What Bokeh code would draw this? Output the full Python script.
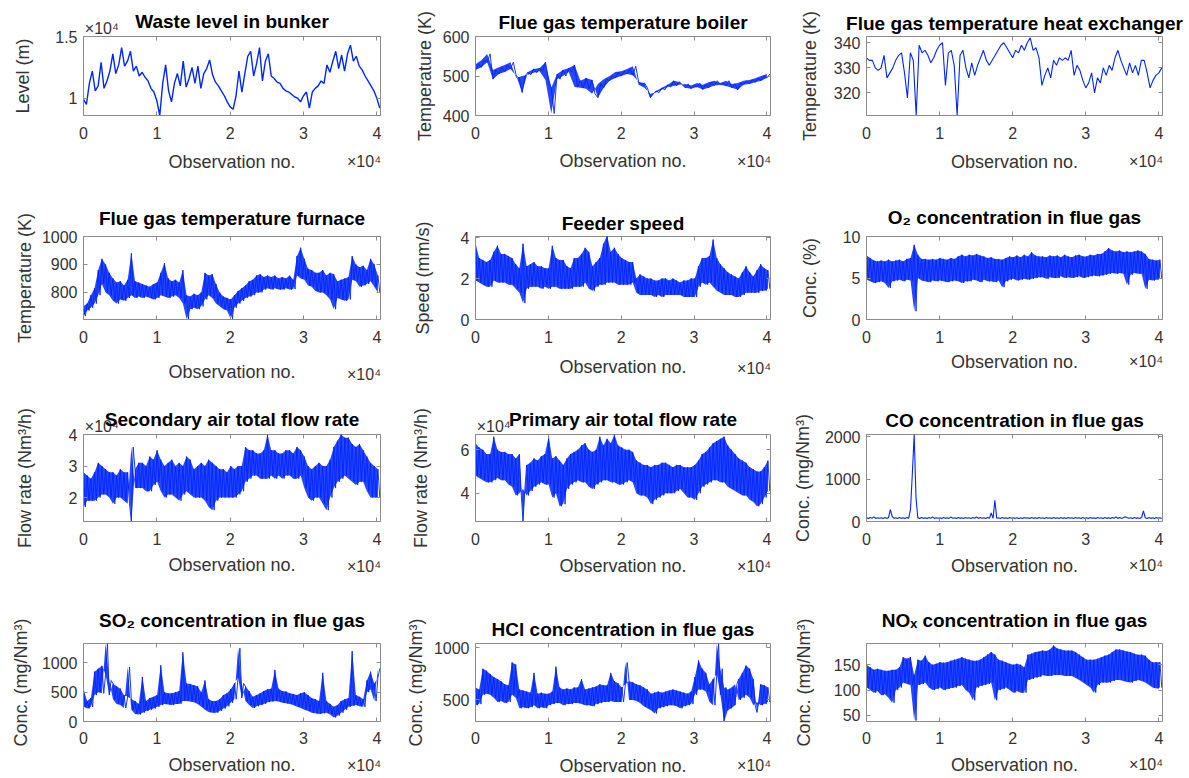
import numpy as np
from bokeh.plotting import figure
from bokeh.layouts import column, row
from bokeh.models import FixedTicker, LinearAxis, Range1d
from bokeh.embed import file_html
from bokeh.resources import INLINE

# ---------------- data (observation axis in units of 1e4) ----------------
x_ticks = [0, 1, 2, 3, 4]
x_last = 4.04

waste_level = [0.99,0.95,1.12,1.22,1.06,1.10,1.29,1.08,1.14,1.22,
    1.36,1.20,1.27,1.41,1.26,1.30,1.38,1.22,1.26,1.18,
    1.21,1.17,1.14,1.08,1.05,0.98,0.86,1.12,1.27,1.06,
    0.97,1.12,1.20,1.10,1.30,1.09,1.16,1.25,1.12,1.26,
    1.08,1.20,1.24,1.31,1.19,1.13,1.10,1.06,1.02,0.97,
    0.93,0.91,1.02,1.22,1.05,1.20,1.34,1.38,1.18,1.28,
    1.41,1.14,1.30,1.36,1.18,1.16,1.13,1.12,1.08,1.06,
    1.05,1.03,1.01,1.00,0.97,1.02,1.05,0.92,1.05,1.08,
    1.10,1.14,1.12,1.27,1.21,1.30,1.38,1.24,1.35,1.22,
    1.36,1.43,1.30,1.34,1.26,1.23,1.18,1.14,1.10,1.06,
    1.00,0.92]

boiler_temp = [515,530,522,540,535,556,492,515,505,522,
    510,528,518,535,500,495,458,500,510,503,
    518,508,520,512,535,490,470,405,505,492,
    515,500,520,510,528,472,488,470,495,468,
    490,455,445,480,470,492,488,500,495,510,
    500,512,505,518,502,525,485,478,482,470,
    445,455,462,458,470,465,478,472,488,475,
    485,478,470,480,468,476,472,482,466,478,
    470,484,476,488,478,482,475,488,470,480,
    465,482,478,488,480,490,484,494,488,500,
    495,505]

hx_temp = [334,333,333,330,329,330,335,326,328,330,
    333,335,336,328,318,336,333,311,339,336,
    337,335,332,334,337,339,340,323,336,337,
    331,311,335,337,330,326,332,327,331,334,
    337,333,331,333,335,337,339,340,338,336,
    334,337,336,339,337,340,342,337,338,334,
    323,327,330,326,333,331,334,333,334,333,
    337,327,331,329,325,322,324,328,320,326,
    324,330,327,331,329,334,337,333,330,327,
    332,328,331,327,333,333,328,322,325,327,
    328,330]

furnace_temp = [750,715,760,735,790,745,815,760,
    880,790,920,830,900,800,870,790,
    850,770,835,760,840,775,825,770,
    845,780,940,790,840,780,835,785,
    830,780,825,785,820,780,830,775,
    835,780,870,790,905,785,850,780,
    840,785,845,790,835,780,880,760,
    790,705,785,740,795,745,790,740,
    800,750,870,775,860,790,865,780,
    830,760,800,750,785,740,780,735,
    775,705,790,745,805,760,815,770,
    825,780,840,785,845,790,860,800,
    865,800,855,810,860,815,855,810,
    860,815,850,810,855,810,850,815,
    860,810,845,812,930,860,960,850,
    920,845,885,825,880,820,870,805,
    870,800,880,800,860,790,870,775,
    865,740,840,780,845,775,850,770,
    855,775,930,845,900,840,890,820,
    895,825,880,830,920,840,900,820,
    860,800]

feeder_speed = [3.7,1.9,3.0,1.8,2.9,1.7,2.8,1.6,
    2.9,1.6,3.3,1.9,3.6,1.8,3.2,1.8,
    3.2,1.8,3.1,1.7,3.0,1.7,2.7,1.5,
    2.5,1.3,3.7,0.8,2.6,1.5,2.7,1.6,
    2.8,1.6,2.6,1.6,2.6,1.5,2.5,1.6,
    2.5,1.5,3.6,1.6,3.0,1.6,2.9,1.5,
    2.9,1.5,2.6,1.5,2.5,1.5,3.0,1.6,
    3.0,1.6,3.2,1.6,3.5,1.8,3.3,1.5,
    2.6,1.4,2.8,1.6,3.0,1.7,3.7,1.7,
    4.1,1.8,3.3,1.8,3.5,1.8,3.2,1.7,
    3.0,1.7,2.9,1.7,2.8,1.7,2.8,1.8,
    2.0,1.3,2.2,1.2,2.1,1.2,2.0,1.2,
    2.0,1.2,1.9,1.1,1.9,1.2,2.0,1.1,
    2.0,1.2,1.9,1.2,2.0,1.2,1.9,1.2,
    1.8,1.2,1.9,1.1,1.9,1.1,2.0,1.1,
    2.0,1.1,2.6,1.6,3.0,1.8,3.0,1.7,
    3.1,1.8,3.9,1.6,3.0,1.4,2.7,1.3,
    2.5,1.2,2.3,1.2,2.2,1.2,2.1,1.1,
    2.0,1.1,2.3,1.2,2.6,1.3,2.3,1.3,
    2.1,1.3,2.4,1.3,2.7,1.4,2.5,1.4,
    2.4,1.5]

o2_conc = [7.7,4.8,7.4,4.6,7.1,4.4,7.0,4.5,
    7.1,4.6,7.0,4.4,7.2,3.8,7.0,4.6,
    7.1,4.7,7.2,4.8,7.0,4.6,7.3,4.8,
    7.4,4.7,9.0,1.0,7.8,5.0,7.3,4.7,
    7.3,4.6,7.2,4.5,7.3,4.7,7.2,4.6,
    7.4,4.7,7.3,4.6,7.2,4.5,7.4,4.6,
    7.3,4.7,7.6,4.6,7.8,4.4,7.6,4.6,
    7.8,4.6,7.7,4.8,7.9,4.7,7.7,4.5,
    7.6,4.8,7.4,4.6,7.5,4.6,7.3,4.5,
    7.3,4.7,7.2,3.9,7.4,4.6,7.6,4.8,
    7.5,4.9,7.7,4.7,7.5,4.8,7.8,4.9,
    7.6,4.8,8.1,4.9,7.7,5.0,7.6,5.1,
    7.6,5.1,7.5,4.9,7.7,5.1,7.6,5.0,
    7.7,5.0,7.5,5.2,7.8,5.0,7.6,5.1,
    7.5,5.0,7.7,5.1,7.8,5.2,7.6,5.0,
    7.6,5.1,7.8,5.2,7.7,5.3,7.9,5.2,
    7.9,5.3,8.2,5.4,8.6,5.5,8.3,5.6,
    8.2,5.5,8.3,5.6,8.1,5.5,8.2,4.2,
    8.1,5.4,8.2,5.6,8.3,5.5,8.2,5.5,
    7.9,3.7,7.3,4.8,7.2,4.7,7.1,4.8,
    7.2,4.9]

secondary_air = [2.8,1.7,2.7,1.9,2.6,1.9,2.8,1.9,
    3.1,2.0,3.0,2.1,2.9,2.1,2.8,2.0,
    2.8,1.8,2.7,2.0,2.9,2.0,2.8,1.9,
    2.8,1.8,1.24,3.6,2.9,2.3,3.1,2.3,
    3.1,2.3,3.0,2.2,3.3,2.2,3.2,2.4,
    3.5,2.5,3.2,2.2,3.0,2.0,3.1,2.1,
    3.2,2.1,3.0,2.0,3.1,1.9,3.0,2.1,
    3.3,2.2,3.2,2.1,2.9,2.0,3.0,2.0,
    3.1,2.0,3.0,1.9,3.2,1.7,3.1,1.6,
    3.0,1.9,2.9,2.0,2.9,2.0,2.8,2.0,
    3.0,2.0,2.9,2.0,3.0,2.1,3.0,2.2,
    3.6,2.5,3.5,2.6,3.5,2.7,3.4,2.7,
    3.4,2.6,3.5,2.6,4.0,2.6,3.5,2.7,
    3.5,2.6,3.4,2.7,3.4,2.6,3.5,2.7,
    3.5,2.7,3.4,2.6,3.6,2.6,3.5,2.7,
    3.3,2.3,3.0,2.0,2.9,1.9,3.0,2.0,
    3.1,2.0,3.0,1.8,3.0,1.6,3.2,2.0,
    3.6,2.3,3.8,2.5,4.0,2.6,3.9,2.7,
    3.9,2.6,3.7,2.5,3.6,2.4,3.7,2.5,
    3.5,2.5,3.3,2.2,3.1,2.0,3.0,2.0,
    2.9,2.0]

primary_air = [6.3,4.8,6.1,4.7,6.0,4.6,5.8,4.5,
    5.8,4.5,6.6,4.6,6.0,4.7,5.9,4.6,
    5.9,4.6,5.8,4.4,5.8,4.3,5.6,3.9,
    5.8,4.0,2.7,4.2,5.3,3.9,5.4,4.1,
    5.6,4.3,5.5,4.4,5.7,4.5,5.8,4.4,
    6.6,4.4,5.6,3.8,5.7,4.0,5.5,3.4,
    5.3,3.5,5.6,4.2,5.8,4.4,5.9,4.5,
    6.0,4.6,6.2,4.5,6.3,4.5,6.0,4.3,
    5.9,4.2,6.0,4.4,6.6,4.5,6.2,4.6,
    6.5,4.6,6.3,4.5,6.7,4.5,6.2,4.4,
    6.1,4.4,6.0,4.5,6.0,4.6,5.9,4.5,
    5.5,4.0,5.4,3.9,5.3,3.9,5.3,3.8,
    5.2,3.5,5.3,3.7,5.3,3.8,5.4,3.9,
    5.4,4.0,5.3,4.0,5.2,4.0,5.3,4.1,
    5.3,4.2,5.2,4.0,5.2,3.8,5.2,3.8,
    5.3,3.7,5.5,4.0,5.8,4.3,5.9,4.4,
    6.1,4.5,6.3,4.6,6.4,4.6,6.5,4.5,
    6.6,4.5,6.2,4.3,6.0,4.2,5.8,4.1,
    5.6,4.0,5.5,3.9,5.4,3.9,5.2,3.7,
    5.1,3.6,5.0,3.4,5.0,3.5,5.2,3.8,
    5.5,4.1]

co_conc = [85,70,95,75,110,72,90,75,
    88,72,92,74,90,280,120,75,
    90,72,92,74,88,70,92,75,
    290,1130,2050,550,85,72,92,74,
    90,72,95,74,110,72,90,75,
    88,72,92,74,90,72,110,75,
    88,72,92,74,90,72,92,75,
    88,72,92,74,110,72,92,75,
    88,72,92,74,200,72,500,75,
    88,72,92,74,90,72,92,75,
    88,74,91,73,90,72,93,75,
    89,72,92,74,90,71,92,76,
    88,72,92,75,90,72,92,74,
    87,72,93,74,90,72,92,75,
    88,73,92,74,91,72,92,75,
    88,72,92,74,90,73,92,75,
    89,72,92,74,90,72,92,75,
    110,72,92,74,90,110,92,75,
    88,72,92,74,90,72,92,250,
    88,72,92,74,90,72,92,75,
    88,72]

so2_conc = [550,250,350,220,400,250,850,450,
    900,500,950,480,800,1330,450,700,
    650,380,600,300,560,280,450,230,
    420,930,380,200,350,130,300,120,
    760,150,350,180,400,200,420,220,
    450,250,960,280,500,300,480,290,
    480,280,500,300,520,300,1180,350,
    650,350,640,340,620,330,600,300,
    500,250,700,200,380,160,350,150,
    350,150,380,180,450,220,480,260,
    550,320,650,380,750,1250,400,650,
    600,350,520,280,420,230,450,260,
    480,280,520,300,550,330,560,340,
    880,350,560,340,520,320,510,310,
    480,300,470,280,450,250,480,230,
    500,200,450,180,400,150,380,140,
    350,130,830,140,350,150,300,120,
    250,70,280,100,350,150,380,200,
    400,250,1200,270,450,280,420,260,
    380,250,700,500,850,550,650,350,
    750,900]

hcl_conc = [620,450,600,460,800,550,780,560,
    750,550,720,520,700,480,680,490,
    650,470,640,480,860,550,840,520,
    600,420,590,430,580,420,570,430,
    760,450,560,420,570,430,560,420,
    560,450,580,460,820,470,620,470,
    600,450,610,460,600,460,620,470,
    620,470,700,460,600,450,610,450,
    620,440,630,460,650,470,640,480,
    640,480,760,490,680,480,660,480,
    620,480,650,860,680,500,670,500,
    650,490,640,470,620,440,600,420,
    560,400,570,370,580,420,570,430,
    580,440,590,450,600,450,590,440,
    580,420,570,440,560,450,580,460,
    720,550,880,600,800,600,760,580,
    650,480,700,450,750,1040,550,800,
    290,620,400,600,420,620,450,650,
    700,500,760,520,830,550,800,520,
    700,450,380,480,650,450,640,460,
    620,480]

nox_conc = [150,105,145,100,140,95,142,98,
    140,90,138,92,138,85,140,75,
    140,100,145,105,165,115,162,112,
    165,110,130,40,160,110,158,112,
    168,115,155,105,150,100,152,102,
    155,105,154,100,155,102,158,104,
    160,105,162,108,165,110,162,100,
    160,95,158,80,158,105,160,108,
    165,110,170,112,175,115,170,80,
    160,100,158,102,155,105,152,100,
    150,95,152,98,150,95,145,95,
    170,120,172,122,175,125,176,126,
    178,130,177,128,180,128,188,130,
    182,130,180,130,178,128,178,128,
    178,128,175,124,170,120,165,115,
    160,110,160,105,160,95,162,110,
    165,115,168,115,170,115,175,118,
    180,120,180,120,178,118,176,116,
    175,115,172,118,170,120,170,118,
    168,115,160,110,155,105,155,103,
    155,105]

panels = [
    dict(title="Waste level in bunker", ylabel="Level (m)", y=waste_level,
         yr=(0.86, 1.5), yt=[1, 1.5], exp_top=True, band=False, lw=1.4),
    dict(title="Flue gas temperature boiler", ylabel="Temperature (K)", y=boiler_temp,
         yr=(400, 600), yt=[400, 500, 600], exp_top=False, band=True, lw=0.9),
    dict(title="Flue gas temperature heat exchanger", ylabel="Temperature (K)", y=hx_temp,
         yr=(311, 342.5), yt=[320, 330, 340], exp_top=False, band=False, lw=1.1),
    dict(title="Flue gas temperature furnace", ylabel="Temperature (K)", y=furnace_temp,
         yr=(703, 1000), yt=[800, 900, 1000], exp_top=False, band=True, lw=0.9),
    dict(title="Feeder speed", ylabel="Speed (mm/s)", y=feeder_speed,
         yr=(0, 4.05), yt=[0, 2, 4], exp_top=False, band=True, lw=0.9),
    dict(title="O\u2082 concentration in flue gas", ylabel="Conc. (%)", y=o2_conc,
         yr=(0, 10), yt=[0, 5, 10], exp_top=False, band=True, lw=0.9),
    dict(title="Secondary air total flow rate", ylabel="Flow rate (Nm\u00b3/h)", y=secondary_air,
         yr=(1.24, 4), yt=[2, 3, 4], exp_top=True, band=True, lw=0.9),
    dict(title="Primary air total flow rate", ylabel="Flow rate (Nm\u00b3/h)", y=primary_air,
         yr=(2.7, 6.7), yt=[4, 6], exp_top=True, band=True, lw=0.9),
    dict(title="CO concentration in flue gas", ylabel="Conc. (mg/Nm\u00b3)", y=co_conc,
         yr=(0, 2050), yt=[0, 1000, 2000], exp_top=False, band=False, lw=1.1),
    dict(title="SO\u2082 concentration in flue gas", ylabel="Conc. (mg/Nm\u00b3)", y=so2_conc,
         yr=(0, 1330), yt=[0, 500, 1000], exp_top=False, band=True, lw=0.9),
    dict(title="HCl concentration in flue gas", ylabel="Conc. (mg/Nm\u00b3)", y=hcl_conc,
         yr=(293, 1042), yt=[500, 1000], exp_top=False, band=True, lw=0.9),
    dict(title="NO\u2093 concentration in flue gas", ylabel="Conc. (mg/Nm\u00b3)", y=nox_conc,
         yr=(38, 192), yt=[50, 100, 150], exp_top=False, band=True, lw=0.9),
]

# ---------------- layout / style ----------------
BLUE = "#0026ff"
AXC = "#8c8c8c"
TXT = "#333333"
FONT = "Liberation Sans"
X_MAX = 4.05
EXP = "\u00d710\u2074"
EXP_X_BOTTOM = 3.825   # centre of the right-aligned multiplier label
EXP_X_TOP = 0.25       # centre of the left-aligned multiplier label

col_x = [0, 395, 786]
col_w = [395, 391, 403]
col_frame = [(83, 380), (475, 770), (866, 1162)]
row_y = [0, 190, 394, 590]
row_h = [190, 204, 196, 188]
row_frame = [(36, 115), (236, 319), (434, 521), (643, 721)]

ylab_standoff = [19, 5, 11, 4, 25, 20, 31, 27, 9, 8, 5, 17]
exp_standoff = [11, 11, 11, 20, 14, 7, 10, 10, 9, 10, 10, 9]
xlab_standoff = [-21, -22, -21, -24, -23, -21, -23, -22, -21, -22, -21, -21]
xtick_standoff = [11, 11, 11, 11, 11, 11, 11, 11, 11, 10, 10, 10]
title_standoff = [7, 7, 5, 15, 5, 18, 7, 7, 7, 26, 8, 26]


def style_axis(ax):
    ax.axis_line_color = AXC
    ax.major_tick_line_color = AXC
    ax.major_tick_in = 4
    ax.major_tick_out = 0
    ax.minor_tick_line_color = None
    ax.major_label_text_font = FONT
    ax.major_label_text_font_size = "16px"
    ax.major_label_text_color = TXT
    ax.axis_label_text_font = FONT
    ax.axis_label_text_font_size = "18px"
    ax.axis_label_text_font_style = "normal"
    ax.axis_label_text_color = TXT


def label_axis(tick, text, standoff):
    ax = LinearAxis(ticker=FixedTicker(ticks=[tick]),
                    major_label_overrides={tick: text},
                    major_label_standoff=standoff,
                    axis_line_color=None, major_tick_line_color=None,
                    minor_tick_line_color=None)
    style_axis(ax)
    ax.axis_line_color = None
    ax.major_tick_line_color = None
    return ax


def make_panel(i, spec):
    r, c = divmod(i, 3)
    fl, fr = col_frame[c]
    ft, fb = row_frame[r]
    lo, hi = spec["yr"]
    p = figure(width=col_w[c], height=row_h[r],
               x_range=Range1d(0, X_MAX), y_range=Range1d(lo, hi),
               toolbar_location=None, output_backend="svg",
               min_border_left=fl - col_x[c],
               min_border_right=col_x[c] + col_w[c] - fr,
               min_border_top=ft - row_y[r],
               min_border_bottom=row_y[r] + row_h[r] - fb,
               title=None if spec["exp_top"] else spec["title"])
    yv = spec["y"]
    x = np.linspace(0, x_last, len(yv))
    if spec["band"]:
        n = len(yv) // 2
        p.varea(x=x[0:2 * n:2], y1=yv[0:2 * n:2], y2=yv[1:2 * n:2],
                fill_color=BLUE, fill_alpha=0.85)
    p.line(x, yv, line_color=BLUE, line_width=spec["lw"])

    p.xgrid.visible = False
    p.ygrid.visible = False
    p.outline_line_color = AXC
    p.outline_line_alpha = 1.0
    p.background_fill_color = "white"
    p.border_fill_color = "white"

    if not spec["exp_top"]:
        p.title.align = "center"
        p.title.text_font = FONT
        p.title.text_font_size = "19px"
        p.title.text_font_style = "bold"
        p.title.text_color = "black"
        p.title.standoff = title_standoff[i]

    xa = p.xaxis[0]
    ya = p.yaxis[0]
    style_axis(xa)
    style_axis(ya)
    xa.ticker = FixedTicker(ticks=x_ticks)
    ya.ticker = FixedTicker(ticks=spec["yt"])
    if i == 0:
        ya.major_label_overrides = {1: "1", 1.5: "1.5"}
    ya.axis_label = spec["ylabel"]
    xa.major_label_standoff = xtick_standoff[i]
    ya.major_label_standoff = 6
    ya.axis_label_standoff = ylab_standoff[i]

    # box ticks on the opposite sides (MATLAB style)
    for loc, ticks in (("right", spec["yt"]), ("above", x_ticks)):
        ax = LinearAxis(ticker=FixedTicker(ticks=ticks),
                        major_label_overrides={t: "" for t in ticks},
                        major_label_text_font_size="0px",
                        major_label_standoff=0,
                        axis_line_color=None,
                        major_tick_line_color=AXC,
                        major_tick_in=4, major_tick_out=0,
                        minor_tick_line_color=None)
        p.add_layout(ax, loc)

    # second bottom axis: x10^4 multiplier + axis title
    xb = label_axis(EXP_X_BOTTOM, EXP, exp_standoff[i])
    xb.axis_label = "Observation no."
    xb.axis_label_standoff = xlab_standoff[i]
    p.add_layout(xb, "below")

    # second top axis: x10^4 multiplier + plot title
    if spec["exp_top"]:
        xt = label_axis(EXP_X_TOP, EXP, 0)
        xt.axis_label = spec["title"]
        xt.axis_label_text_font_size = "19px"
        xt.axis_label_text_font_style = "bold"
        xt.axis_label_text_color = "black"
        xt.axis_label_standoff = -15
        p.add_layout(xt, "above")
    return p


figs = [make_panel(i, s) for i, s in enumerate(panels)]
layout = column(*[row(*figs[k:k + 3]) for k in range(0, 12, 3)])

open("out.html", "w").write(file_html(layout, INLINE))
